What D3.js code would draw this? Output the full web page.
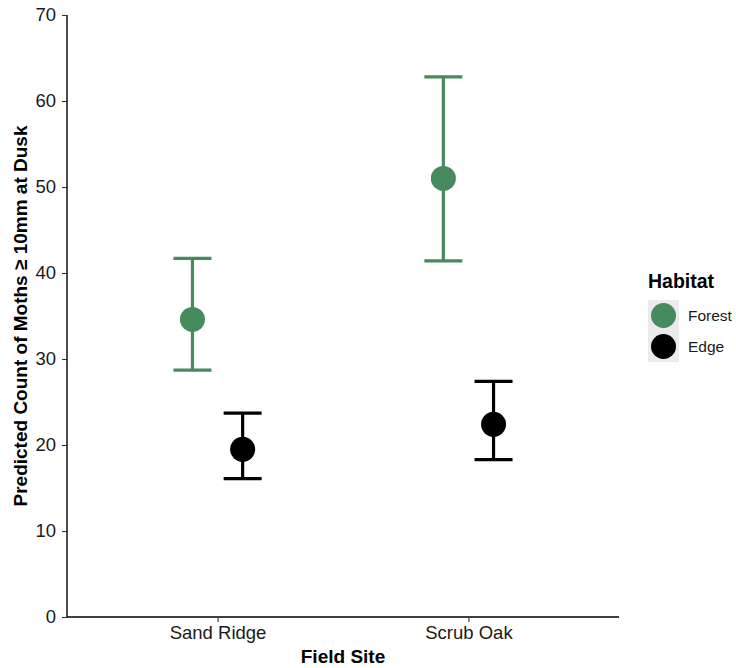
<!DOCTYPE html>
<html>
<head>
<meta charset="utf-8">
<script src="https://cdn.jsdelivr.net/npm/d3@7"></script>
<style>
  body { margin: 0; background: #fff; }
  text { font-family: "Liberation Sans", Arial, sans-serif; }
</style>
</head>
<body>
<div id="chart"></div>
<script>
// data
var sites = ['Sand Ridge', 'Scrub Oak'];
var habitats = ['Forest', 'Edge'];
var habitatColors = ['#468a5e', '#000000'];
var estimates = [
    { site: 'Sand Ridge', habitat: 'Forest', fit: 34.6, lower: 28.7, upper: 41.7 },
    { site: 'Sand Ridge', habitat: 'Edge', fit: 19.5, lower: 16.1, upper: 23.7 },
    { site: 'Scrub Oak', habitat: 'Forest', fit: 51.0, lower: 41.4, upper: 62.8 },
    { site: 'Scrub Oak', habitat: 'Edge', fit: 22.4, lower: 18.3, upper: 27.4 }
];
var yTicks = [0, 10, 20, 30, 40, 50, 60, 70];

var width = 736, height = 668;
var margin = { top: 15, right: 117, bottom: 51, left: 67 };
var plot_w = width - margin.left - margin.right;
var plot_h = height - margin.top - margin.bottom;

var svg = d3.select('#chart')
    .append('svg')
    .attr('width', width)
    .attr('height', height);

var g = svg.append('g')
    .attr('transform', `translate(${margin.left}, ${margin.top})`);

// ggplot style discrete axis: 0.6 units of padding on each side
var x = d3.scalePoint()
    .domain(sites)
    .range([0, plot_w])
    .padding(0.6);
var step = x.step();
var dodge = d3.scalePoint().domain(habitats).range([-0.1 * step, 0.1 * step]);

var y = d3.scaleLinear().domain([0, 70]).range([plot_h, 0]);
var color = d3.scaleOrdinal().domain(habitats).range(habitatColors);

// axes
var yAxis = g.append('g')
    .call(d3.axisLeft(y).tickValues(yTicks).tickSize(5).tickPadding(6));
var xAxis = g.append('g')
    .attr('transform', `translate(0, ${plot_h})`)
    .call(d3.axisBottom(x).tickSize(5).tickPadding(4));

[xAxis, yAxis].forEach(function(ax) {
    ax.select('.domain').attr('stroke', '#000').attr('stroke-width', 1.4);
    ax.selectAll('.tick line').attr('stroke', '#333').attr('stroke-width', 1.1);
    ax.selectAll('.tick text')
        .attr('fill', '#1a1a1a')
        .style('font-size', '18.5px')
        .style('font-family', '"Liberation Sans", Arial, sans-serif');
});
// axis lines run from the plot edges without end ticks
yAxis.select('.domain').attr('d', `M0,0V${plot_h}`);
xAxis.select('.domain').attr('d', `M0,0H${plot_w}`);

// error bars
var capHalf = 19;
var bars = g.selectAll('.errbar')
    .data(estimates)
    .enter()
    .append('g')
    .attr('class', 'errbar')
    .attr('stroke', function(d) { return color(d.habitat); })
    .attr('stroke-width', 3.2)
    .attr('fill', 'none');

bars.append('line')
    .attr('x1', function(d) { return x(d.site) + dodge(d.habitat); })
    .attr('x2', function(d) { return x(d.site) + dodge(d.habitat); })
    .attr('y1', function(d) { return y(d.lower); })
    .attr('y2', function(d) { return y(d.upper); });
bars.append('line')
    .attr('x1', function(d) { return x(d.site) + dodge(d.habitat) - capHalf; })
    .attr('x2', function(d) { return x(d.site) + dodge(d.habitat) + capHalf; })
    .attr('y1', function(d) { return y(d.upper); })
    .attr('y2', function(d) { return y(d.upper); });
bars.append('line')
    .attr('x1', function(d) { return x(d.site) + dodge(d.habitat) - capHalf; })
    .attr('x2', function(d) { return x(d.site) + dodge(d.habitat) + capHalf; })
    .attr('y1', function(d) { return y(d.lower); })
    .attr('y2', function(d) { return y(d.lower); });

// points
g.selectAll('.pt')
    .data(estimates)
    .enter()
    .append('circle')
    .attr('class', 'pt')
    .attr('cx', function(d) { return x(d.site) + dodge(d.habitat); })
    .attr('cy', function(d) { return y(d.fit); })
    .attr('r', 12.5)
    .attr('fill', function(d) { return color(d.habitat); });

// axis titles
svg.append('text')
    .attr('x', margin.left + plot_w / 2)
    .attr('y', 663)
    .attr('text-anchor', 'middle')
    .style('font-size', '19px')
    .style('font-weight', 'bold')
    .text('Field Site');

svg.append('text')
    .attr('transform', `translate(27, ${margin.top + plot_h / 2}) rotate(-90)`)
    .attr('text-anchor', 'middle')
    .style('font-size', '19px')
    .style('font-weight', 'bold')
    .text('Predicted Count of Moths \u2265 10mm at Dusk');

// legend
var legend = svg.append('g').attr('transform', 'translate(648, 270)');
legend.append('text')
    .attr('x', 0)
    .attr('y', 18)
    .style('font-size', '19.5px')
    .style('font-weight', 'bold')
    .text('Habitat');

var keys = legend.selectAll('.key')
    .data(habitats)
    .enter()
    .append('g')
    .attr('class', 'key')
    .attr('transform', function(d, i) { return `translate(0, ${30 + i * 31})`; });
keys.append('rect')
    .attr('width', 31)
    .attr('height', 31)
    .attr('fill', '#ebebeb');
keys.append('circle')
    .attr('cx', 15.5)
    .attr('cy', 15.5)
    .attr('r', 12.5)
    .attr('fill', function(d) { return color(d); });
keys.append('text')
    .attr('x', 40)
    .attr('y', 21)
    .style('font-size', '15.5px')
    .attr('fill', '#1a1a1a')
    .text(function(d) { return d; });
</script>
</body>
</html>
